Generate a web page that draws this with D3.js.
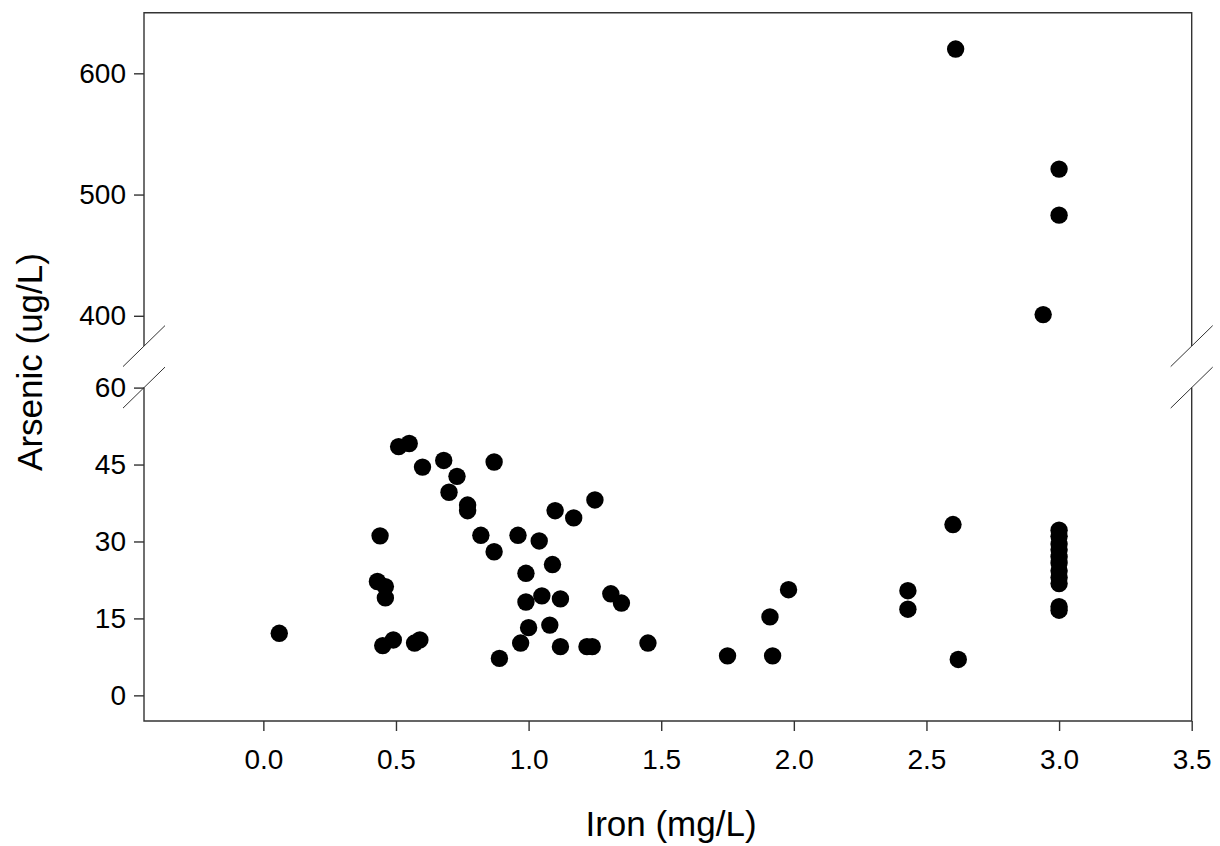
<!DOCTYPE html>
<html lang="en">
<head>
  <meta charset="UTF-8">
  <title>Arsenic vs Iron</title>
  <script src="https://d3js.org/d3.v7.min.js"></script>
  <style>
    body {
      margin: 0;
      background: #fff;
    }

    svg {
      font-family: "Liberation Sans", Arial, sans-serif;
    }

    .axis path {
      display: none;
    }

    .axis line {
      stroke: #333;
      stroke-width: 1.4px;
    }

    .axis text {
      font-size: 28px;
      fill: #000;
    }

    .frame {
      fill: none;
      stroke: #333;
      stroke-width: 1.4px;
    }

    .brk {
      stroke: #333;
      stroke-width: 1px;
    }
  </style>
</head>
<body>
  <script>
    // Iron (mg/L) and Arsenic (ug/L)
    const ironLow = [
      0.06, 0.44, 0.43, 0.46, 0.46, 0.45, 0.49, 0.57, 0.59,
      0.51, 0.55, 0.60, 0.68, 0.73, 0.70, 0.77, 0.77, 0.82, 0.87, 0.87, 0.89,
      1.25, 1.10, 1.17, 0.96, 1.04, 1.09, 0.99, 1.05, 1.12, 0.99, 1.31, 1.35,
      1.00, 1.08, 0.97, 1.12, 1.22, 1.24, 1.45,
      1.75, 1.91, 1.98, 1.92,
      2.60, 2.43, 2.43, 2.62,
      3.00, 3.00, 3.00, 3.00, 3.00, 3.00, 3.00, 3.00, 3.00, 3.00, 3.00
    ];
    const arsenicLow = [
      12.1, 31.1, 22.2, 21.2, 19.0, 9.7, 10.8, 10.2, 10.8,
      48.5, 49.1, 44.5, 45.8, 42.7, 39.6, 37.1, 36.0, 31.2, 45.5, 28.0, 7.2,
      38.1, 36.0, 34.6, 31.2, 30.1, 25.5, 23.8, 19.4, 18.8, 18.2, 19.8, 18.0,
      13.2, 13.7, 10.2, 9.5, 9.5, 9.5, 10.2,
      7.7, 15.3, 20.6, 7.7,
      33.3, 20.4, 16.8, 7.0,
      32.2, 31.0, 29.5, 28.4, 27.0, 25.8, 24.3, 23.0, 21.8, 17.3, 16.6
    ];
    const ironHigh = [2.61, 3.00, 3.00, 2.94];
    const arsenicHigh = [620, 521, 483, 401];

    const xTicks = [0, 0.5, 1, 1.5, 2, 2.5, 3, 3.5];
    const yTicksLow = [0, 15, 30, 45, 60];
    const yTicksHigh = [400, 500, 600];

    const width = 1220;
    const height = 846;
    const margin = {top: 12.7, right: 28.3, bottom: 125, left: 144};
    const gap = 41.5; // space between the two y segments

    const plotH = height - margin.top - margin.bottom;
    const segH = (plotH - gap) / 2;
    const left = margin.left;
    const right = width - margin.right;
    const bottom = height - margin.bottom;

    const svg = d3.select("body").append("svg")
      .attr("width", width).attr("height", height);

    const x = d3.scaleLinear().domain([-0.45, 3.5]).range([left, right]);
    const yLow = d3.scaleLinear().domain([-5, 60]).range([bottom, bottom - segH]);
    const yHigh = d3.scaleLinear().domain([375, 650]).range([margin.top + segH, margin.top]);

    // axes
    svg.append("g")
      .attr("class", "axis")
      .attr("transform", `translate(0, ${bottom})`)
      .call(d3.axisBottom(x).tickValues(xTicks).tickFormat(d3.format(".1f"))
        .tickSize(10).tickPadding(18));

    svg.append("g")
      .attr("class", "axis")
      .attr("transform", `translate(${left}, 0)`)
      .call(d3.axisLeft(yLow).tickValues(yTicksLow).tickSize(10).tickPadding(8));

    svg.append("g")
      .attr("class", "axis")
      .attr("transform", `translate(${left}, 0)`)
      .call(d3.axisLeft(yHigh).tickValues(yTicksHigh).tickSize(10).tickPadding(8));

    // frame, broken on both sides
    const lowTop = bottom - segH;
    const highBot = margin.top + segH;
    svg.append("path")
      .attr("class", "frame")
      .attr("d", `M${left},${highBot}V${margin.top}H${right}V${highBot}` +
                 `M${left},${lowTop}V${bottom}H${right}V${lowTop}`);

    // break marks
    [left, right].forEach(px => {
      [highBot, lowTop].forEach(py => {
        svg.append("line")
          .attr("class", "brk")
          .attr("x1", px - 21).attr("y1", py + 20.5)
          .attr("x2", px + 21).attr("y2", py - 20.5);
      });
    });

    // points
    const r = 8.7;
    svg.append("g").selectAll("circle")
      .data(d3.zip(ironLow, arsenicLow))
      .join("circle")
      .attr("cx", d => x(d[0]))
      .attr("cy", d => yLow(d[1]))
      .attr("r", r)
      .attr("fill", "#000");

    svg.append("g").selectAll("circle")
      .data(d3.zip(ironHigh, arsenicHigh))
      .join("circle")
      .attr("cx", d => x(d[0]))
      .attr("cy", d => yHigh(d[1]))
      .attr("r", r)
      .attr("fill", "#000");

    // axis titles
    svg.append("text")
      .attr("x", 671)
      .attr("y", 836)
      .attr("text-anchor", "middle")
      .style("font-size", "35px")
      .text("Iron (mg/L)");

    svg.append("text")
      .attr("transform", `translate(42, 362) rotate(-90)`)
      .attr("text-anchor", "middle")
      .style("font-size", "35px")
      .text("Arsenic (ug/L)");
  </script>
</body>
</html>
